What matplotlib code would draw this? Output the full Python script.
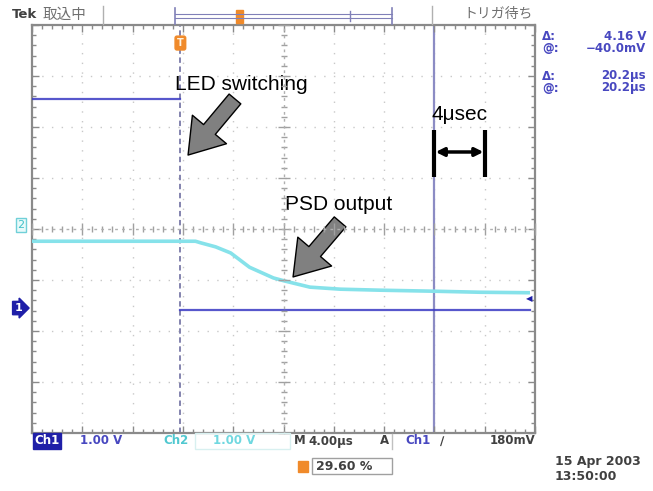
import numpy as np
import matplotlib.pyplot as plt
from matplotlib.patches import FancyArrowPatch, Rectangle
from matplotlib.lines import Line2D

plt.rcParams['font.family'] = ['DejaVu Sans', 'Noto Sans CJK JP']

W, H = 653, 491

# scope settings: 4 us/div horizontal, 1 V/div on both channels
t_left = -11.8
us_per_div = 4.0
t_right = t_left + 10 * us_per_div
t_center = t_left + 5 * us_per_div

# Ch1: LED drive signal (V), before and after the switching edge
ch1_t_on = [-11.8, 0.0]
ch1_v_on = [4.10, 4.10]
ch1_t_off = [0.0, 27.8]
ch1_v_off = [-0.04, -0.04]
ch1_pos = -1.55          # ground marker position, div

# Ch2: PSD output (V)
ch2_t = [-11.8, 1.2, 1.6, 2.8, 4.0, 5.5, 7.4, 8.3, 10.3, 12.7, 15.9, 20.2, 23.8, 27.8]
ch2_v = [-0.24, -0.24, -0.27, -0.35, -0.47, -0.75, -0.96, -1.02, -1.14, -1.18,
         -1.20, -1.22, -1.24, -1.25]
ch2_pos = 0.0

trig_level = 0.18        # V on Ch1
cursor_t = 20.2          # us
span_t = [20.2, 24.2]    # one division marker

frame_c = '#8a8a8a'
grid_c = '#c8c8c8'
blue = '#3a3ac4'
cyan = '#86e2ea'
orange = '#f08a2a'


def fx(x):
    return x / W


def fy(y):
    return 1 - y / H


fig = plt.figure(figsize=(W / 100, H / 100), dpi=100)
rect = [fx(32), fy(433), (535 - 32) / W, (433 - 25) / H]

ax = fig.add_axes(rect)
ax.set_xlim(t_left, t_right)
ax.set_ylim(-4, 4)

xmaj = t_left + us_per_div * np.arange(11)
xmin = t_left + us_per_div / 5 * np.arange(51)
ymaj = np.arange(-4, 5)
ymin = np.arange(-4, 4.01, 0.2)

# dotted graticule
for t in xmaj[1:-1]:
    if abs(t - t_center) > 1e-6:
        ax.axvline(t, color=grid_c, lw=1.0, ls=(0, (1, 6)), zorder=0)
for v in ymaj[1:-1]:
    if v != 0:
        ax.axhline(v, color=grid_c, lw=1.0, ls=(0, (1, 6)), zorder=0)

ax.set_xticks(xmaj)
ax.set_xticks(xmin, minor=True)
ax.set_yticks(ymaj)
ax.set_yticks(ymin, minor=True)
ax.tick_params(which='both', direction='in', top=True, right=True,
               labelbottom=False, labelleft=False, color=frame_c, width=1)
ax.tick_params(which='major', length=5)
ax.tick_params(which='minor', length=3)
for s in ax.spines.values():
    s.set_color(frame_c)
    s.set_linewidth(1.6)

# center crosshair with minor ticks
axc = fig.add_axes(rect, sharex=ax, sharey=ax)
axc.patch.set_visible(False)
axc.spines['top'].set_visible(False)
axc.spines['right'].set_visible(False)
axc.spines['left'].set_position(('data', t_center))
axc.spines['bottom'].set_position(('data', 0))
for k in ('left', 'bottom'):
    axc.spines[k].set_color('#b0b0b0')
    axc.spines[k].set_linestyle((0, (1, 4)))
    axc.spines[k].set_linewidth(1.0)
axc.tick_params(which='both', direction='inout', labelbottom=False,
                labelleft=False, color='#a0a0a0', width=1)
axc.tick_params(which='major', length=8)
axc.tick_params(which='minor', length=5)

# trigger position and cursor
ax.axvline(0, color='#7a7aa8', lw=1.3, ls=(0, (3, 2)), zorder=1)
ax.axvline(cursor_t, color='#8c8cc4', lw=1.6, zorder=1)

# traces
ax.plot(ch2_t, np.array(ch2_v) + ch2_pos, color=cyan, lw=2.6, zorder=3,
        solid_capstyle='butt')
ax.plot(ch1_t_on, np.array(ch1_v_on) + ch1_pos, color=blue, lw=1.6, zorder=4,
        alpha=0.85)
ax.plot(ch1_t_off, np.array(ch1_v_off) + ch1_pos, color=blue, lw=1.6, zorder=4,
        alpha=0.85)

# channel ground markers and trigger level
ax.annotate('2', (t_left, ch2_pos + 0.08), xytext=(-8, 0),
            textcoords='offset points', ha='center', va='center',
            fontsize=8, color='#40c0c8', annotation_clip=False,
            bbox=dict(boxstyle='square,pad=0.15', fc='#e8fafa', ec='#70d0d8', lw=1))
ax.annotate('1', (t_left, ch1_pos), xytext=(-10, 0),
            textcoords='offset points', ha='center', va='center',
            fontsize=8, color='white', weight='bold', annotation_clip=False,
            bbox=dict(boxstyle='rarrow,pad=0.15', fc='#1f1fa8', ec='#1f1fa8', lw=1))
ax.annotate('\u25c0', (t_right, ch1_pos + trig_level), xytext=(-4, 0),
            textcoords='offset points', ha='center', va='center',
            fontsize=6, color='#1f1fa8', annotation_clip=False)

# trigger position marker at top of graticule
ax.annotate('T', (0, 4), xytext=(0, -13), textcoords='offset points',
            ha='center', va='center', fontsize=7, color='#fff3e0', weight='bold',
            annotation_clip=False,
            bbox=dict(boxstyle='round,pad=0.2', fc=orange, ec=orange))

# explanatory labels
big = dict(family=['Liberation Sans', 'DejaVu Sans'], fontsize=15, color='black')
ax.text(4.82, 2.73, 'LED switching', ha='center', va='baseline', **big)
ax.text(12.6, 0.37, 'PSD output', ha='center', va='baseline', **big)
ax.text(22.2, 2.14, '4\u03bcsec', ha='center', va='baseline', **big)

arrow_kw = dict(arrowstyle='simple,head_length=2.4,head_width=3.2,tail_width=1.1',
                mutation_scale=10, fc='#808080', ec='black', lw=1, zorder=6,
                shrinkA=0, shrinkB=0)
ax.add_patch(FancyArrowPatch((4.34, 2.55), (0.61, 1.45), **arrow_kw))
ax.add_patch(FancyArrowPatch((12.7, 0.14), (8.96, -0.94), **arrow_kw))

# one-division span marker
for t in span_t:
    ax.plot([t, t], [1.02, 1.94], color='black', lw=3, zorder=6,
            solid_capstyle='butt')
ax.annotate('', (span_t[1] - 0.1, 1.51), xytext=(span_t[0] + 0.1, 1.51),
            arrowprops=dict(arrowstyle='<|-|>', color='black', lw=2.5,
                            mutation_scale=12, shrinkA=0, shrinkB=0), zorder=6)

# top status line
fig.text(fx(12), fy(15), 'Tek', fontsize=9.5, weight='bold', color='#404040', va='center')
fig.text(fx(43), fy(15), '取込中', fontsize=10.5, color='#707070', va='center',
         family=['Noto Sans CJK JP', 'DejaVu Sans'])
fig.add_artist(Line2D([fx(103), fx(103)], [fy(6), fy(24)], color='#b0b0b0', lw=1))
fig.add_artist(Line2D([fx(175), fx(392)], [fy(14), fy(14)], color='#8080b8', lw=0.8))
fig.add_artist(Line2D([fx(175), fx(392)], [fy(18), fy(18)], color='#8080b8', lw=0.8))
fig.add_artist(Line2D([fx(175), fx(175)], [fy(8), fy(24)], color='#8080b8', lw=1.2))
fig.add_artist(Line2D([fx(392), fx(392)], [fy(8), fy(24)], color='#8080b8', lw=1.2))
fig.add_artist(Line2D([fx(350), fx(350)], [fy(11), fy(21)], color='#8080b8', lw=1))
fig.add_artist(Rectangle((fx(236), fy(23)), 7 / W, 13 / H, color=orange))
fig.add_artist(Line2D([fx(432), fx(432)], [fy(6), fy(24)], color='#b0b0b0', lw=1))
fig.text(fx(463), fy(14), 'トリガ待ち', fontsize=10, color='#707070', va='center',
         family=['Noto Sans CJK JP', 'DejaVu Sans'])

# cursor readouts
ro = dict(fontsize=8.5, weight='bold', color='#4848c0', va='center')
for y, lab, val in [(36, '\u0394:', '4.16 V'), (48, '@:', '\u221240.0mV'),
                    (76, '\u0394:', '20.2\u03bcs'), (88, '@:', '20.2\u03bcs')]:
    fig.text(fx(542), fy(y), lab, ha='left', **ro)
    fig.text(fx(646), fy(y), val, ha='right', **ro)

# bottom settings line
fs = 8.5
yb = fy(441)
fig.text(fx(47), yb, 'Ch1', ha='center', va='center', fontsize=fs, weight='bold',
         color='white', bbox=dict(boxstyle='square,pad=0.1', fc='#1f1fa8', ec='#1f1fa8'))
fig.text(fx(80), yb, '1.00 V', va='center', fontsize=fs, weight='bold', color='#4848c0')
fig.text(fx(163), yb, 'Ch2', va='center', fontsize=fs, weight='bold', color='#50c8d0')
fig.add_artist(Rectangle((fx(195), fy(449)), 95 / W, 16 / H, fill=False,
                         ec='#d8f0f0', lw=1))
fig.text(fx(213), yb, '1.00 V', va='center', fontsize=fs, weight='bold', color='#70d8e0')
fig.text(fx(294), yb, 'M', va='center', fontsize=fs, weight='bold', color='#404040')
fig.text(fx(308), yb, '4.00\u03bcs', va='center', fontsize=fs, weight='bold', color='#404040')
fig.text(fx(380), yb, 'A', va='center', fontsize=fs, weight='bold', color='#404040')
fig.add_artist(Line2D([fx(392), fx(392)], [fy(434), fy(449)], color='#c0c0c0', lw=1))
fig.text(fx(405), yb, 'Ch1', va='center', fontsize=fs, weight='bold', color='#4848c0')
fig.text(fx(440), yb, '\u2215', va='center', fontsize=fs, weight='bold', color='#404040')
fig.text(fx(535), yb, '180mV', ha='right', va='center', fontsize=fs, weight='bold',
         color='#404040')

# horizontal position readout
fig.add_artist(Rectangle((fx(298), fy(472)), 10 / W, 11 / H, color=orange))
fig.add_artist(Rectangle((fx(312), fy(474)), 80 / W, 16 / H, fill=False,
                         ec='#a0a0a0', lw=1))
fig.text(fx(316), fy(466), '29.60 %', va='center', fontsize=9, weight='bold',
         color='#404040')

fig.text(fx(555), fy(462), '15 Apr 2003', va='center', fontsize=9, weight='bold',
         color='#404040')
fig.text(fx(555), fy(476), '13:50:00', va='center', fontsize=9, weight='bold',
         color='#404040')

fig.savefig('out.png', dpi=100)
